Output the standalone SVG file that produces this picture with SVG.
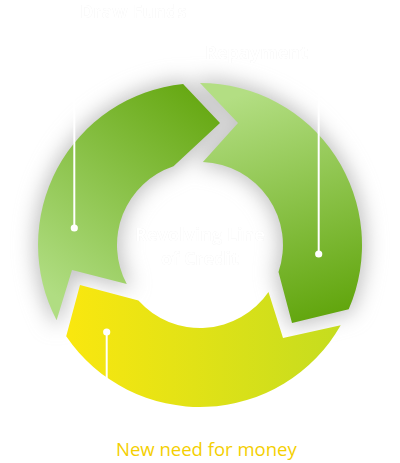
<svg xmlns="http://www.w3.org/2000/svg" width="400" height="463" viewBox="0 0 400 463">
  <defs>
    <linearGradient id="gA" gradientUnits="userSpaceOnUse" x1="60" y1="300" x2="215" y2="105">
      <stop offset="0" stop-color="#b0dd82"/>
      <stop offset="1" stop-color="#66a812"/>
    </linearGradient>
    <linearGradient id="gB" gradientUnits="userSpaceOnUse" x1="240" y1="95" x2="310" y2="320">
      <stop offset="0" stop-color="#b3de83"/>
      <stop offset="1" stop-color="#62a60e"/>
    </linearGradient>
    <linearGradient id="gC" gradientUnits="userSpaceOnUse" x1="70" y1="0" x2="345" y2="0">
      <stop offset="0" stop-color="#f9e70f"/>
      <stop offset="1" stop-color="#c4dc1f"/>
    </linearGradient>
    <filter id="halo" x="-30%" y="-30%" width="160%" height="160%">
      <feGaussianBlur stdDeviation="10"/>
    </filter>
    <filter id="txtsh" x="-10%" y="-30%" width="120%" height="160%">
      <feDropShadow dx="0" dy="0" stdDeviation="0.7" flood-color="#000" flood-opacity="0.18"/>
    </filter>
  </defs>
  <style>
    .lbl { font-family: "Open Sans", "Liberation Sans", sans-serif; font-weight: 700; font-size: 18px; fill: #ffffff; filter: url(#txtsh); }
    .lead { stroke: #ffffff; stroke-width: 2; fill: none; }
    .dot { fill: #ffffff; }
    .shadow { fill: #c2c2c2; stroke: #c2c2c2; stroke-width: 8; stroke-linejoin: round; }
  </style>
  <rect width="400" height="463" fill="#ffffff"/>

  <g id="shadow" filter="url(#halo)">
    <path class="shadow" d="M 56.6 320.3 A 162 162 0 0 1 183.1 83.9 L 220 123 L 173.5 166.3 A 83 83 0 0 0 126.8 284.1 L 72 270 Z"/>
    <path class="shadow" d="M 200 83 A 162 162 0 0 1 348.7 309.3 L 292 323 L 278.5 271.9 A 83 83 0 0 0 202.9 162.05 L 238 123 Z"/>
  </g>

  <g id="node-draw-funds">
    <path fill="url(#gA)" d="M 56.6 320.3 A 162 162 0 0 1 183.1 83.9 L 220 123 L 173.5 166.3 A 83 83 0 0 0 126.8 284.1 L 72 270 Z"/>
    <text class="lbl" x="80" y="18">Draw Funds</text>
  </g>

  <g id="node-repayment">
    <path fill="url(#gB)" d="M 200 83 A 162 162 0 0 1 348.7 309.3 L 292 323 L 278.5 271.9 A 83 83 0 0 0 202.9 162.05 L 238 123 Z"/>
    <text class="lbl" x="308" y="59" text-anchor="end" font-size="19">Repayment</text>
  </g>

  <g id="node-new-need">
    <path fill="url(#gC)" d="M 340.7 325.3 A 162 162 0 0 1 66.2 336.3 L 80 285 L 138.4 300.6 A 83 83 0 0 0 268.5 291.9 L 283 338 Z"/>
    <text x="116" y="456" font-family="'Open Sans', 'Liberation Sans', sans-serif" font-size="18.5" fill="#f4cf00">New need for money</text>
  </g>

  <g id="node-center">
    <text class="lbl" x="200" y="241" text-anchor="middle">Revolving Line</text>
    <text class="lbl" x="200" y="265" text-anchor="middle">of Credit</text>
  </g>

  <g id="connectors">
    <line class="lead" x1="74.3" y1="0" x2="74.3" y2="228"/>
    <circle class="dot" cx="74.3" cy="228" r="3.6"/>
    <line class="lead" x1="318.7" y1="37" x2="318.7" y2="254"/>
    <circle class="dot" cx="318.7" cy="254" r="3.6"/>
    <line class="lead" x1="106.7" y1="332" x2="106.7" y2="458"/>
    <circle class="dot" cx="106.7" cy="332" r="3.6"/>
  </g>
</svg>
